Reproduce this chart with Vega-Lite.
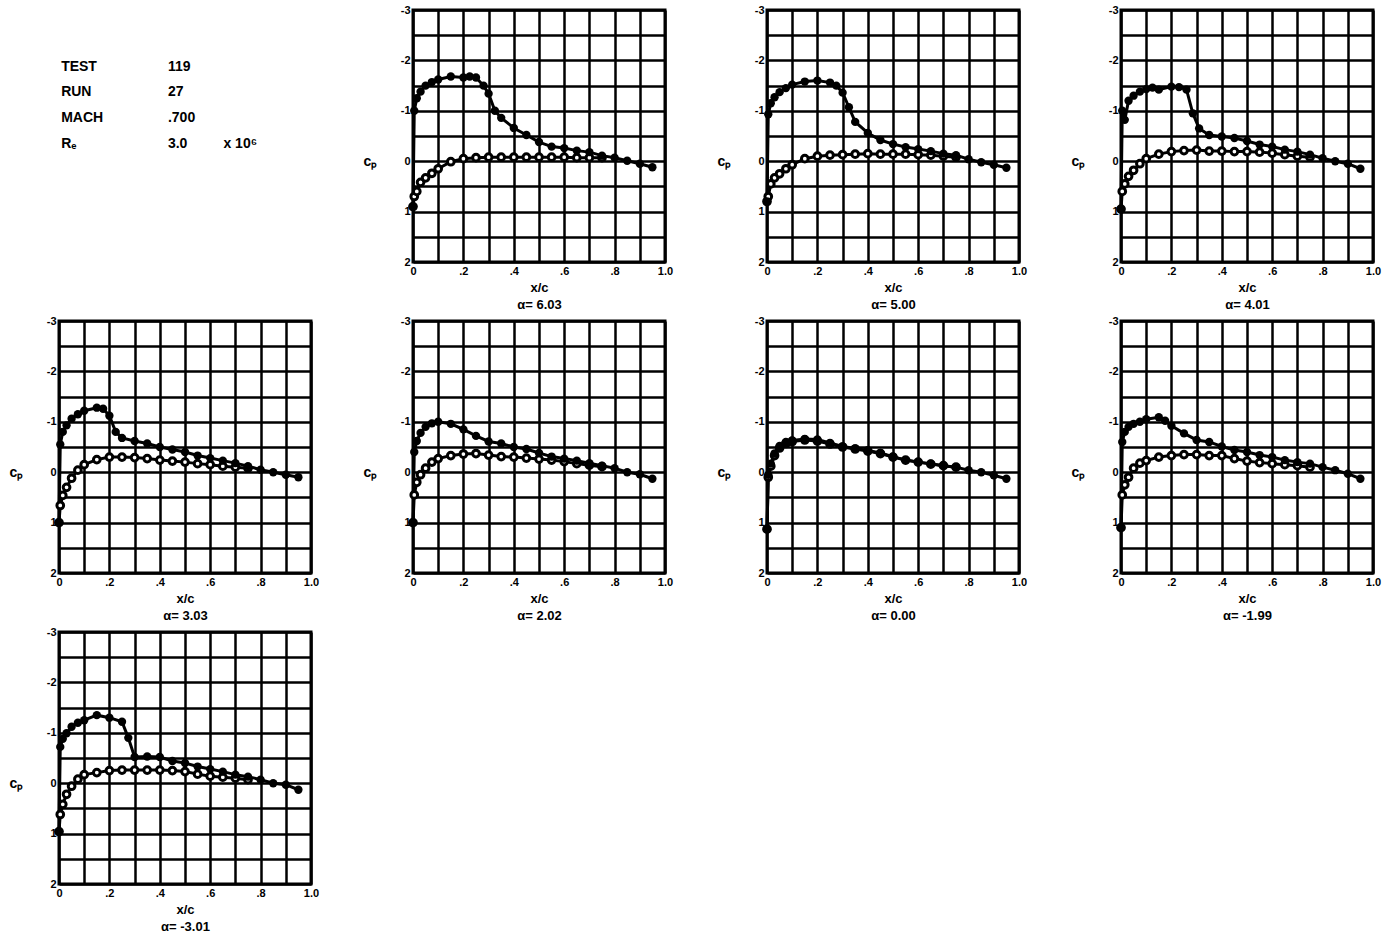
{
 "$schema": "https://vega.github.io/schema/vega-lite/v6.json",
 "background": "white",
 "padding": {"left": 7, "top": 2, "right": 5, "bottom": 5},
 "columns": 4,
 "spacing": {"row": 59, "column": 102},
 "bounds": "flush",
 "datasets": {
  "cp": [
   {"p":1,"s":"U","x":0,"cp":0.9},{"p":1,"s":"U","x":0.005,"cp":-1.0},{"p":1,"s":"U","x":0.015,"cp":-1.25},{"p":1,"s":"U","x":0.03,"cp":-1.38},{"p":1,"s":"U","x":0.05,"cp":-1.5},{"p":1,"s":"U","x":0.075,"cp":-1.57},{"p":1,"s":"U","x":0.1,"cp":-1.62},{"p":1,"s":"U","x":0.15,"cp":-1.68},{"p":1,"s":"U","x":0.2,"cp":-1.66},{"p":1,"s":"U","x":0.225,"cp":-1.68},{"p":1,"s":"U","x":0.25,"cp":-1.66},{"p":1,"s":"U","x":0.28,"cp":-1.5},{"p":1,"s":"U","x":0.3,"cp":-1.34},{"p":1,"s":"U","x":0.325,"cp":-1.0},{"p":1,"s":"U","x":0.35,"cp":-0.86},{"p":1,"s":"U","x":0.4,"cp":-0.66},{"p":1,"s":"U","x":0.45,"cp":-0.52},{"p":1,"s":"U","x":0.5,"cp":-0.38},{"p":1,"s":"U","x":0.55,"cp":-0.29},{"p":1,"s":"U","x":0.6,"cp":-0.26},{"p":1,"s":"U","x":0.65,"cp":-0.21},{"p":1,"s":"U","x":0.7,"cp":-0.18},{"p":1,"s":"U","x":0.75,"cp":-0.11},{"p":1,"s":"U","x":0.8,"cp":-0.07},{"p":1,"s":"U","x":0.85,"cp":-0.01},{"p":1,"s":"U","x":0.9,"cp":0.05},{"p":1,"s":"U","x":0.95,"cp":0.12},
   {"p":1,"s":"L","x":0,"cp":0.9},{"p":1,"s":"L","x":0.005,"cp":0.7},{"p":1,"s":"L","x":0.015,"cp":0.6},{"p":1,"s":"L","x":0.03,"cp":0.42},{"p":1,"s":"L","x":0.05,"cp":0.33},{"p":1,"s":"L","x":0.075,"cp":0.24},{"p":1,"s":"L","x":0.1,"cp":0.15},{"p":1,"s":"L","x":0.15,"cp":0.01},{"p":1,"s":"L","x":0.2,"cp":-0.05},{"p":1,"s":"L","x":0.25,"cp":-0.07},{"p":1,"s":"L","x":0.3,"cp":-0.08},{"p":1,"s":"L","x":0.35,"cp":-0.08},{"p":1,"s":"L","x":0.4,"cp":-0.08},{"p":1,"s":"L","x":0.45,"cp":-0.08},{"p":1,"s":"L","x":0.5,"cp":-0.08},{"p":1,"s":"L","x":0.55,"cp":-0.08},{"p":1,"s":"L","x":0.6,"cp":-0.08},{"p":1,"s":"L","x":0.65,"cp":-0.07},{"p":1,"s":"L","x":0.7,"cp":-0.07},{"p":1,"s":"L","x":0.75,"cp":-0.07},

   {"p":2,"s":"U","x":0,"cp":0.8},{"p":2,"s":"U","x":0.005,"cp":-0.93},{"p":2,"s":"U","x":0.015,"cp":-1.15},{"p":2,"s":"U","x":0.03,"cp":-1.27},{"p":2,"s":"U","x":0.05,"cp":-1.37},{"p":2,"s":"U","x":0.075,"cp":-1.45},{"p":2,"s":"U","x":0.1,"cp":-1.52},{"p":2,"s":"U","x":0.15,"cp":-1.58},{"p":2,"s":"U","x":0.2,"cp":-1.6},{"p":2,"s":"U","x":0.25,"cp":-1.56},{"p":2,"s":"U","x":0.275,"cp":-1.5},{"p":2,"s":"U","x":0.3,"cp":-1.36},{"p":2,"s":"U","x":0.325,"cp":-1.07},{"p":2,"s":"U","x":0.35,"cp":-0.78},{"p":2,"s":"U","x":0.4,"cp":-0.56},{"p":2,"s":"U","x":0.45,"cp":-0.42},{"p":2,"s":"U","x":0.5,"cp":-0.34},{"p":2,"s":"U","x":0.55,"cp":-0.28},{"p":2,"s":"U","x":0.6,"cp":-0.24},{"p":2,"s":"U","x":0.65,"cp":-0.2},{"p":2,"s":"U","x":0.7,"cp":-0.15},{"p":2,"s":"U","x":0.75,"cp":-0.12},{"p":2,"s":"U","x":0.8,"cp":-0.04},{"p":2,"s":"U","x":0.85,"cp":0.02},{"p":2,"s":"U","x":0.9,"cp":0.07},{"p":2,"s":"U","x":0.95,"cp":0.13},
   {"p":2,"s":"L","x":0,"cp":0.8},{"p":2,"s":"L","x":0.005,"cp":0.7},{"p":2,"s":"L","x":0.015,"cp":0.45},{"p":2,"s":"L","x":0.03,"cp":0.33},{"p":2,"s":"L","x":0.05,"cp":0.25},{"p":2,"s":"L","x":0.075,"cp":0.15},{"p":2,"s":"L","x":0.1,"cp":0.07},{"p":2,"s":"L","x":0.15,"cp":-0.05},{"p":2,"s":"L","x":0.2,"cp":-0.1},{"p":2,"s":"L","x":0.25,"cp":-0.12},{"p":2,"s":"L","x":0.3,"cp":-0.13},{"p":2,"s":"L","x":0.35,"cp":-0.14},{"p":2,"s":"L","x":0.4,"cp":-0.15},{"p":2,"s":"L","x":0.45,"cp":-0.14},{"p":2,"s":"L","x":0.5,"cp":-0.14},{"p":2,"s":"L","x":0.55,"cp":-0.14},{"p":2,"s":"L","x":0.6,"cp":-0.13},{"p":2,"s":"L","x":0.65,"cp":-0.12},{"p":2,"s":"L","x":0.7,"cp":-0.1},{"p":2,"s":"L","x":0.75,"cp":-0.08},

   {"p":3,"s":"U","x":0,"cp":0.95},{"p":3,"s":"U","x":0.005,"cp":-1.0},{"p":3,"s":"U","x":0.015,"cp":-0.82},{"p":3,"s":"U","x":0.03,"cp":-1.2},{"p":3,"s":"U","x":0.05,"cp":-1.3},{"p":3,"s":"U","x":0.075,"cp":-1.38},{"p":3,"s":"U","x":0.1,"cp":-1.43},{"p":3,"s":"U","x":0.125,"cp":-1.46},{"p":3,"s":"U","x":0.15,"cp":-1.42},{"p":3,"s":"U","x":0.2,"cp":-1.48},{"p":3,"s":"U","x":0.23,"cp":-1.47},{"p":3,"s":"U","x":0.26,"cp":-1.42},{"p":3,"s":"U","x":0.285,"cp":-0.95},{"p":3,"s":"U","x":0.31,"cp":-0.65},{"p":3,"s":"U","x":0.35,"cp":-0.52},{"p":3,"s":"U","x":0.4,"cp":-0.49},{"p":3,"s":"U","x":0.45,"cp":-0.46},{"p":3,"s":"U","x":0.5,"cp":-0.4},{"p":3,"s":"U","x":0.55,"cp":-0.33},{"p":3,"s":"U","x":0.6,"cp":-0.29},{"p":3,"s":"U","x":0.65,"cp":-0.23},{"p":3,"s":"U","x":0.7,"cp":-0.19},{"p":3,"s":"U","x":0.75,"cp":-0.13},{"p":3,"s":"U","x":0.8,"cp":-0.06},{"p":3,"s":"U","x":0.85,"cp":0.0},{"p":3,"s":"U","x":0.9,"cp":0.05},{"p":3,"s":"U","x":0.95,"cp":0.15},
   {"p":3,"s":"L","x":0,"cp":0.95},{"p":3,"s":"L","x":0.005,"cp":0.6},{"p":3,"s":"L","x":0.015,"cp":0.45},{"p":3,"s":"L","x":0.03,"cp":0.3},{"p":3,"s":"L","x":0.05,"cp":0.18},{"p":3,"s":"L","x":0.075,"cp":0.05},{"p":3,"s":"L","x":0.1,"cp":-0.05},{"p":3,"s":"L","x":0.15,"cp":-0.14},{"p":3,"s":"L","x":0.2,"cp":-0.19},{"p":3,"s":"L","x":0.25,"cp":-0.21},{"p":3,"s":"L","x":0.3,"cp":-0.22},{"p":3,"s":"L","x":0.35,"cp":-0.2},{"p":3,"s":"L","x":0.4,"cp":-0.2},{"p":3,"s":"L","x":0.45,"cp":-0.19},{"p":3,"s":"L","x":0.5,"cp":-0.19},{"p":3,"s":"L","x":0.55,"cp":-0.18},{"p":3,"s":"L","x":0.6,"cp":-0.16},{"p":3,"s":"L","x":0.65,"cp":-0.13},{"p":3,"s":"L","x":0.7,"cp":-0.1},{"p":3,"s":"L","x":0.75,"cp":-0.08},

   {"p":4,"s":"U","x":0,"cp":1.0},{"p":4,"s":"U","x":0.005,"cp":-0.55},{"p":4,"s":"U","x":0.015,"cp":-0.8},{"p":4,"s":"U","x":0.03,"cp":-0.93},{"p":4,"s":"U","x":0.05,"cp":-1.06},{"p":4,"s":"U","x":0.075,"cp":-1.15},{"p":4,"s":"U","x":0.1,"cp":-1.22},{"p":4,"s":"U","x":0.15,"cp":-1.28},{"p":4,"s":"U","x":0.175,"cp":-1.26},{"p":4,"s":"U","x":0.2,"cp":-1.12},{"p":4,"s":"U","x":0.225,"cp":-0.8},{"p":4,"s":"U","x":0.25,"cp":-0.68},{"p":4,"s":"U","x":0.3,"cp":-0.62},{"p":4,"s":"U","x":0.35,"cp":-0.57},{"p":4,"s":"U","x":0.4,"cp":-0.5},{"p":4,"s":"U","x":0.45,"cp":-0.45},{"p":4,"s":"U","x":0.5,"cp":-0.4},{"p":4,"s":"U","x":0.55,"cp":-0.33},{"p":4,"s":"U","x":0.6,"cp":-0.28},{"p":4,"s":"U","x":0.65,"cp":-0.23},{"p":4,"s":"U","x":0.7,"cp":-0.18},{"p":4,"s":"U","x":0.75,"cp":-0.12},{"p":4,"s":"U","x":0.8,"cp":-0.05},{"p":4,"s":"U","x":0.85,"cp":0.0},{"p":4,"s":"U","x":0.9,"cp":0.05},{"p":4,"s":"U","x":0.95,"cp":0.1},
   {"p":4,"s":"L","x":0,"cp":1.0},{"p":4,"s":"L","x":0.005,"cp":0.66},{"p":4,"s":"L","x":0.015,"cp":0.46},{"p":4,"s":"L","x":0.03,"cp":0.3},{"p":4,"s":"L","x":0.05,"cp":0.12},{"p":4,"s":"L","x":0.075,"cp":-0.04},{"p":4,"s":"L","x":0.1,"cp":-0.15},{"p":4,"s":"L","x":0.15,"cp":-0.25},{"p":4,"s":"L","x":0.2,"cp":-0.3},{"p":4,"s":"L","x":0.25,"cp":-0.3},{"p":4,"s":"L","x":0.3,"cp":-0.29},{"p":4,"s":"L","x":0.35,"cp":-0.27},{"p":4,"s":"L","x":0.4,"cp":-0.24},{"p":4,"s":"L","x":0.45,"cp":-0.22},{"p":4,"s":"L","x":0.5,"cp":-0.2},{"p":4,"s":"L","x":0.55,"cp":-0.17},{"p":4,"s":"L","x":0.6,"cp":-0.15},{"p":4,"s":"L","x":0.65,"cp":-0.12},{"p":4,"s":"L","x":0.7,"cp":-0.1},{"p":4,"s":"L","x":0.75,"cp":-0.08},

   {"p":5,"s":"U","x":0,"cp":1.0},{"p":5,"s":"U","x":0.005,"cp":-0.4},{"p":5,"s":"U","x":0.015,"cp":-0.62},{"p":5,"s":"U","x":0.03,"cp":-0.78},{"p":5,"s":"U","x":0.05,"cp":-0.9},{"p":5,"s":"U","x":0.075,"cp":-0.97},{"p":5,"s":"U","x":0.1,"cp":-1.0},{"p":5,"s":"U","x":0.15,"cp":-0.96},{"p":5,"s":"U","x":0.2,"cp":-0.85},{"p":5,"s":"U","x":0.25,"cp":-0.72},{"p":5,"s":"U","x":0.3,"cp":-0.61},{"p":5,"s":"U","x":0.35,"cp":-0.57},{"p":5,"s":"U","x":0.4,"cp":-0.5},{"p":5,"s":"U","x":0.45,"cp":-0.46},{"p":5,"s":"U","x":0.5,"cp":-0.38},{"p":5,"s":"U","x":0.55,"cp":-0.31},{"p":5,"s":"U","x":0.6,"cp":-0.27},{"p":5,"s":"U","x":0.65,"cp":-0.23},{"p":5,"s":"U","x":0.7,"cp":-0.18},{"p":5,"s":"U","x":0.75,"cp":-0.13},{"p":5,"s":"U","x":0.8,"cp":-0.08},{"p":5,"s":"U","x":0.85,"cp":0.0},{"p":5,"s":"U","x":0.9,"cp":0.04},{"p":5,"s":"U","x":0.95,"cp":0.13},
   {"p":5,"s":"L","x":0,"cp":1.0},{"p":5,"s":"L","x":0.005,"cp":0.45},{"p":5,"s":"L","x":0.015,"cp":0.2},{"p":5,"s":"L","x":0.03,"cp":0.05},{"p":5,"s":"L","x":0.05,"cp":-0.08},{"p":5,"s":"L","x":0.075,"cp":-0.2},{"p":5,"s":"L","x":0.1,"cp":-0.27},{"p":5,"s":"L","x":0.15,"cp":-0.33},{"p":5,"s":"L","x":0.2,"cp":-0.36},{"p":5,"s":"L","x":0.25,"cp":-0.37},{"p":5,"s":"L","x":0.3,"cp":-0.34},{"p":5,"s":"L","x":0.35,"cp":-0.31},{"p":5,"s":"L","x":0.4,"cp":-0.3},{"p":5,"s":"L","x":0.45,"cp":-0.28},{"p":5,"s":"L","x":0.5,"cp":-0.26},{"p":5,"s":"L","x":0.55,"cp":-0.24},{"p":5,"s":"L","x":0.6,"cp":-0.21},{"p":5,"s":"L","x":0.65,"cp":-0.17},{"p":5,"s":"L","x":0.7,"cp":-0.14},{"p":5,"s":"L","x":0.75,"cp":-0.11},

   {"p":6,"s":"U","x":0,"cp":1.13},{"p":6,"s":"U","x":0.005,"cp":0.05},{"p":6,"s":"U","x":0.015,"cp":-0.17},{"p":6,"s":"U","x":0.03,"cp":-0.37},{"p":6,"s":"U","x":0.05,"cp":-0.52},{"p":6,"s":"U","x":0.075,"cp":-0.6},{"p":6,"s":"U","x":0.1,"cp":-0.63},{"p":6,"s":"U","x":0.15,"cp":-0.66},{"p":6,"s":"U","x":0.2,"cp":-0.65},{"p":6,"s":"U","x":0.25,"cp":-0.58},{"p":6,"s":"U","x":0.3,"cp":-0.51},{"p":6,"s":"U","x":0.35,"cp":-0.47},{"p":6,"s":"U","x":0.4,"cp":-0.43},{"p":6,"s":"U","x":0.45,"cp":-0.38},{"p":6,"s":"U","x":0.5,"cp":-0.31},{"p":6,"s":"U","x":0.55,"cp":-0.24},{"p":6,"s":"U","x":0.6,"cp":-0.2},{"p":6,"s":"U","x":0.65,"cp":-0.17},{"p":6,"s":"U","x":0.7,"cp":-0.13},{"p":6,"s":"U","x":0.75,"cp":-0.1},{"p":6,"s":"U","x":0.8,"cp":-0.04},{"p":6,"s":"U","x":0.85,"cp":0.0},{"p":6,"s":"U","x":0.9,"cp":0.06},{"p":6,"s":"U","x":0.95,"cp":0.13},
   {"p":6,"s":"L","x":0,"cp":1.13},{"p":6,"s":"L","x":0.005,"cp":0.1},{"p":6,"s":"L","x":0.015,"cp":-0.12},{"p":6,"s":"L","x":0.03,"cp":-0.33},{"p":6,"s":"L","x":0.05,"cp":-0.48},{"p":6,"s":"L","x":0.075,"cp":-0.57},{"p":6,"s":"L","x":0.1,"cp":-0.61},{"p":6,"s":"L","x":0.15,"cp":-0.64},{"p":6,"s":"L","x":0.2,"cp":-0.62},{"p":6,"s":"L","x":0.25,"cp":-0.56},{"p":6,"s":"L","x":0.3,"cp":-0.5},{"p":6,"s":"L","x":0.35,"cp":-0.46},{"p":6,"s":"L","x":0.4,"cp":-0.42},{"p":6,"s":"L","x":0.45,"cp":-0.37},{"p":6,"s":"L","x":0.5,"cp":-0.3},{"p":6,"s":"L","x":0.55,"cp":-0.24},{"p":6,"s":"L","x":0.6,"cp":-0.2},{"p":6,"s":"L","x":0.65,"cp":-0.16},{"p":6,"s":"L","x":0.7,"cp":-0.13},{"p":6,"s":"L","x":0.75,"cp":-0.1},

   {"p":7,"s":"U","x":0,"cp":1.1},{"p":7,"s":"U","x":0.005,"cp":-0.6},{"p":7,"s":"U","x":0.015,"cp":-0.8},{"p":7,"s":"U","x":0.03,"cp":-0.9},{"p":7,"s":"U","x":0.05,"cp":-0.96},{"p":7,"s":"U","x":0.075,"cp":-1.0},{"p":7,"s":"U","x":0.1,"cp":-1.05},{"p":7,"s":"U","x":0.15,"cp":-1.09},{"p":7,"s":"U","x":0.175,"cp":-1.02},{"p":7,"s":"U","x":0.2,"cp":-0.92},{"p":7,"s":"U","x":0.25,"cp":-0.77},{"p":7,"s":"U","x":0.3,"cp":-0.64},{"p":7,"s":"U","x":0.35,"cp":-0.6},{"p":7,"s":"U","x":0.4,"cp":-0.51},{"p":7,"s":"U","x":0.45,"cp":-0.44},{"p":7,"s":"U","x":0.5,"cp":-0.4},{"p":7,"s":"U","x":0.55,"cp":-0.34},{"p":7,"s":"U","x":0.6,"cp":-0.3},{"p":7,"s":"U","x":0.65,"cp":-0.24},{"p":7,"s":"U","x":0.7,"cp":-0.2},{"p":7,"s":"U","x":0.75,"cp":-0.17},{"p":7,"s":"U","x":0.8,"cp":-0.1},{"p":7,"s":"U","x":0.85,"cp":-0.04},{"p":7,"s":"U","x":0.9,"cp":0.03},{"p":7,"s":"U","x":0.95,"cp":0.13},
   {"p":7,"s":"L","x":0,"cp":1.1},{"p":7,"s":"L","x":0.005,"cp":0.45},{"p":7,"s":"L","x":0.015,"cp":0.25},{"p":7,"s":"L","x":0.03,"cp":0.1},{"p":7,"s":"L","x":0.05,"cp":-0.08},{"p":7,"s":"L","x":0.075,"cp":-0.18},{"p":7,"s":"L","x":0.1,"cp":-0.23},{"p":7,"s":"L","x":0.15,"cp":-0.3},{"p":7,"s":"L","x":0.2,"cp":-0.33},{"p":7,"s":"L","x":0.25,"cp":-0.35},{"p":7,"s":"L","x":0.3,"cp":-0.35},{"p":7,"s":"L","x":0.35,"cp":-0.33},{"p":7,"s":"L","x":0.4,"cp":-0.33},{"p":7,"s":"L","x":0.45,"cp":-0.27},{"p":7,"s":"L","x":0.5,"cp":-0.22},{"p":7,"s":"L","x":0.55,"cp":-0.19},{"p":7,"s":"L","x":0.6,"cp":-0.17},{"p":7,"s":"L","x":0.65,"cp":-0.15},{"p":7,"s":"L","x":0.7,"cp":-0.13},{"p":7,"s":"L","x":0.75,"cp":-0.1},

   {"p":8,"s":"U","x":0,"cp":0.96},{"p":8,"s":"U","x":0.005,"cp":-0.72},{"p":8,"s":"U","x":0.015,"cp":-0.88},{"p":8,"s":"U","x":0.03,"cp":-0.99},{"p":8,"s":"U","x":0.05,"cp":-1.12},{"p":8,"s":"U","x":0.075,"cp":-1.2},{"p":8,"s":"U","x":0.1,"cp":-1.25},{"p":8,"s":"U","x":0.15,"cp":-1.35},{"p":8,"s":"U","x":0.2,"cp":-1.3},{"p":8,"s":"U","x":0.25,"cp":-1.22},{"p":8,"s":"U","x":0.275,"cp":-0.9},{"p":8,"s":"U","x":0.3,"cp":-0.52},{"p":8,"s":"U","x":0.35,"cp":-0.53},{"p":8,"s":"U","x":0.4,"cp":-0.52},{"p":8,"s":"U","x":0.45,"cp":-0.44},{"p":8,"s":"U","x":0.5,"cp":-0.4},{"p":8,"s":"U","x":0.55,"cp":-0.33},{"p":8,"s":"U","x":0.6,"cp":-0.28},{"p":8,"s":"U","x":0.65,"cp":-0.23},{"p":8,"s":"U","x":0.7,"cp":-0.17},{"p":8,"s":"U","x":0.75,"cp":-0.13},{"p":8,"s":"U","x":0.8,"cp":-0.07},{"p":8,"s":"U","x":0.85,"cp":0.0},{"p":8,"s":"U","x":0.9,"cp":0.03},{"p":8,"s":"U","x":0.95,"cp":0.13},
   {"p":8,"s":"L","x":0,"cp":0.96},{"p":8,"s":"L","x":0.005,"cp":0.62},{"p":8,"s":"L","x":0.015,"cp":0.42},{"p":8,"s":"L","x":0.03,"cp":0.22},{"p":8,"s":"L","x":0.05,"cp":0.06},{"p":8,"s":"L","x":0.075,"cp":-0.08},{"p":8,"s":"L","x":0.1,"cp":-0.17},{"p":8,"s":"L","x":0.15,"cp":-0.21},{"p":8,"s":"L","x":0.2,"cp":-0.25},{"p":8,"s":"L","x":0.25,"cp":-0.26},{"p":8,"s":"L","x":0.3,"cp":-0.26},{"p":8,"s":"L","x":0.35,"cp":-0.26},{"p":8,"s":"L","x":0.4,"cp":-0.26},{"p":8,"s":"L","x":0.45,"cp":-0.25},{"p":8,"s":"L","x":0.5,"cp":-0.23},{"p":8,"s":"L","x":0.55,"cp":-0.18},{"p":8,"s":"L","x":0.6,"cp":-0.14},{"p":8,"s":"L","x":0.65,"cp":-0.12},{"p":8,"s":"L","x":0.7,"cp":-0.1},{"p":8,"s":"L","x":0.75,"cp":-0.07}
  ],
  "info": [
   {"col":0,"line":1,"t":"TEST"},{"col":1,"line":1,"t":"119"},
   {"col":0,"line":2,"t":"RUN"},{"col":1,"line":2,"t":"27"},
   {"col":0,"line":3,"t":"MACH"},{"col":1,"line":3,"t":".700"},
   {"col":0,"line":4,"t":"Rₑ"},{"col":1,"line":4,"t":"3.0"},{"col":1.52,"line":4,"t":"x 10⁶"}
  ]
 },
 "data": {"name": "cp"},
 "concat": [
  {"width":252,"height":252,"view":{"stroke":null},"data":{"name":"info"},
   "mark":{"type":"text","align":"left","baseline":"middle","fontSize":14,"fontWeight":"bold","font":"Liberation Sans","color":"black"},
   "encoding":{"x":{"field":"col","type":"quantitative","scale":{"domain":[-0.02,2.34],"nice":false,"zero":false},"axis":null},
     "y":{"field":"line","type":"quantitative","scale":{"domain":[-1.2,8.6],"nice":false,"zero":false,"reverse":true},"axis":null},
     "text":{"field":"t"}}},
  {"width":252,"height":252,"transform":[{"filter":"datum.p==1"}],
   "encoding":{"x":{"field":"x","type":"quantitative","scale":{"domain":[0,1],"nice":false},"axis":{"title":["x/c","α= 6.03"],"values":[0,0.1,0.2,0.3,0.4,0.5,0.6,0.7,0.8,0.9,1]}},
     "y":{"field":"cp","type":"quantitative","scale":{"domain":[-3,2],"reverse":true,"nice":false,"zero":false},"axis":{"title":"cₚ","values":[-3,-2.5,-2,-1.5,-1,-0.5,0,0.5,1,1.5,2]}}},
   "layer":[{"mark":{"type":"line","color":"black","strokeWidth":3},"encoding":{"detail":{"field":"s"}}},
     {"transform":[{"filter":"datum.s=='L'"}],"mark":{"type":"point","shape":"circle","filled":true,"fill":"white","stroke":"black","strokeWidth":3,"size":45,"opacity":1}},
     {"transform":[{"filter":"datum.s=='U'"}],"mark":{"type":"circle","color":"black","size":70,"opacity":1}}]},
  {"width":252,"height":252,"transform":[{"filter":"datum.p==2"}],
   "encoding":{"x":{"field":"x","type":"quantitative","scale":{"domain":[0,1],"nice":false},"axis":{"title":["x/c","α= 5.00"],"values":[0,0.1,0.2,0.3,0.4,0.5,0.6,0.7,0.8,0.9,1]}},
     "y":{"field":"cp","type":"quantitative","scale":{"domain":[-3,2],"reverse":true,"nice":false,"zero":false},"axis":{"title":"cₚ","values":[-3,-2.5,-2,-1.5,-1,-0.5,0,0.5,1,1.5,2]}}},
   "layer":[{"mark":{"type":"line","color":"black","strokeWidth":3},"encoding":{"detail":{"field":"s"}}},
     {"transform":[{"filter":"datum.s=='L'"}],"mark":{"type":"point","shape":"circle","filled":true,"fill":"white","stroke":"black","strokeWidth":3,"size":45,"opacity":1}},
     {"transform":[{"filter":"datum.s=='U'"}],"mark":{"type":"circle","color":"black","size":70,"opacity":1}}]},
  {"width":252,"height":252,"transform":[{"filter":"datum.p==3"}],
   "encoding":{"x":{"field":"x","type":"quantitative","scale":{"domain":[0,1],"nice":false},"axis":{"title":["x/c","α= 4.01"],"values":[0,0.1,0.2,0.3,0.4,0.5,0.6,0.7,0.8,0.9,1]}},
     "y":{"field":"cp","type":"quantitative","scale":{"domain":[-3,2],"reverse":true,"nice":false,"zero":false},"axis":{"title":"cₚ","values":[-3,-2.5,-2,-1.5,-1,-0.5,0,0.5,1,1.5,2]}}},
   "layer":[{"mark":{"type":"line","color":"black","strokeWidth":3},"encoding":{"detail":{"field":"s"}}},
     {"transform":[{"filter":"datum.s=='L'"}],"mark":{"type":"point","shape":"circle","filled":true,"fill":"white","stroke":"black","strokeWidth":3,"size":45,"opacity":1}},
     {"transform":[{"filter":"datum.s=='U'"}],"mark":{"type":"circle","color":"black","size":70,"opacity":1}}]},
  {"width":252,"height":252,"transform":[{"filter":"datum.p==4"}],
   "encoding":{"x":{"field":"x","type":"quantitative","scale":{"domain":[0,1],"nice":false},"axis":{"title":["x/c","α= 3.03"],"values":[0,0.1,0.2,0.3,0.4,0.5,0.6,0.7,0.8,0.9,1]}},
     "y":{"field":"cp","type":"quantitative","scale":{"domain":[-3,2],"reverse":true,"nice":false,"zero":false},"axis":{"title":"cₚ","values":[-3,-2.5,-2,-1.5,-1,-0.5,0,0.5,1,1.5,2]}}},
   "layer":[{"mark":{"type":"line","color":"black","strokeWidth":3},"encoding":{"detail":{"field":"s"}}},
     {"transform":[{"filter":"datum.s=='L'"}],"mark":{"type":"point","shape":"circle","filled":true,"fill":"white","stroke":"black","strokeWidth":3,"size":45,"opacity":1}},
     {"transform":[{"filter":"datum.s=='U'"}],"mark":{"type":"circle","color":"black","size":70,"opacity":1}}]},
  {"width":252,"height":252,"transform":[{"filter":"datum.p==5"}],
   "encoding":{"x":{"field":"x","type":"quantitative","scale":{"domain":[0,1],"nice":false},"axis":{"title":["x/c","α= 2.02"],"values":[0,0.1,0.2,0.3,0.4,0.5,0.6,0.7,0.8,0.9,1]}},
     "y":{"field":"cp","type":"quantitative","scale":{"domain":[-3,2],"reverse":true,"nice":false,"zero":false},"axis":{"title":"cₚ","values":[-3,-2.5,-2,-1.5,-1,-0.5,0,0.5,1,1.5,2]}}},
   "layer":[{"mark":{"type":"line","color":"black","strokeWidth":3},"encoding":{"detail":{"field":"s"}}},
     {"transform":[{"filter":"datum.s=='L'"}],"mark":{"type":"point","shape":"circle","filled":true,"fill":"white","stroke":"black","strokeWidth":3,"size":45,"opacity":1}},
     {"transform":[{"filter":"datum.s=='U'"}],"mark":{"type":"circle","color":"black","size":70,"opacity":1}}]},
  {"width":252,"height":252,"transform":[{"filter":"datum.p==6"}],
   "encoding":{"x":{"field":"x","type":"quantitative","scale":{"domain":[0,1],"nice":false},"axis":{"title":["x/c","α= 0.00"],"values":[0,0.1,0.2,0.3,0.4,0.5,0.6,0.7,0.8,0.9,1]}},
     "y":{"field":"cp","type":"quantitative","scale":{"domain":[-3,2],"reverse":true,"nice":false,"zero":false},"axis":{"title":"cₚ","values":[-3,-2.5,-2,-1.5,-1,-0.5,0,0.5,1,1.5,2]}}},
   "layer":[{"mark":{"type":"line","color":"black","strokeWidth":3},"encoding":{"detail":{"field":"s"}}},
     {"transform":[{"filter":"datum.s=='L'"}],"mark":{"type":"point","shape":"circle","filled":true,"fill":"white","stroke":"black","strokeWidth":3,"size":45,"opacity":1}},
     {"transform":[{"filter":"datum.s=='U'"}],"mark":{"type":"circle","color":"black","size":70,"opacity":1}}]},
  {"width":252,"height":252,"transform":[{"filter":"datum.p==7"}],
   "encoding":{"x":{"field":"x","type":"quantitative","scale":{"domain":[0,1],"nice":false},"axis":{"title":["x/c","α= -1.99"],"values":[0,0.1,0.2,0.3,0.4,0.5,0.6,0.7,0.8,0.9,1]}},
     "y":{"field":"cp","type":"quantitative","scale":{"domain":[-3,2],"reverse":true,"nice":false,"zero":false},"axis":{"title":"cₚ","values":[-3,-2.5,-2,-1.5,-1,-0.5,0,0.5,1,1.5,2]}}},
   "layer":[{"mark":{"type":"line","color":"black","strokeWidth":3},"encoding":{"detail":{"field":"s"}}},
     {"transform":[{"filter":"datum.s=='L'"}],"mark":{"type":"point","shape":"circle","filled":true,"fill":"white","stroke":"black","strokeWidth":3,"size":45,"opacity":1}},
     {"transform":[{"filter":"datum.s=='U'"}],"mark":{"type":"circle","color":"black","size":70,"opacity":1}}]},
  {"width":252,"height":252,"transform":[{"filter":"datum.p==8"}],
   "encoding":{"x":{"field":"x","type":"quantitative","scale":{"domain":[0,1],"nice":false},"axis":{"title":["x/c","α= -3.01"],"values":[0,0.1,0.2,0.3,0.4,0.5,0.6,0.7,0.8,0.9,1]}},
     "y":{"field":"cp","type":"quantitative","scale":{"domain":[-3,2],"reverse":true,"nice":false,"zero":false},"axis":{"title":"cₚ","values":[-3,-2.5,-2,-1.5,-1,-0.5,0,0.5,1,1.5,2]}}},
   "layer":[{"mark":{"type":"line","color":"black","strokeWidth":3},"encoding":{"detail":{"field":"s"}}},
     {"transform":[{"filter":"datum.s=='L'"}],"mark":{"type":"point","shape":"circle","filled":true,"fill":"white","stroke":"black","strokeWidth":3,"size":45,"opacity":1}},
     {"transform":[{"filter":"datum.s=='U'"}],"mark":{"type":"circle","color":"black","size":70,"opacity":1}}]}
 ],
 "config": {
  "view": {"stroke": "black", "strokeWidth": 3},
  "axis": {"grid": true, "gridColor": "black", "gridWidth": 2.5, "gridOpacity": 1, "domain": false, "ticks": false,
    "labelFont": "Liberation Sans", "labelFontWeight": "bold", "labelFontSize": 11, "labelColor": "black", "labelPadding": 3,
    "labelOverlap": false, "labelBound": false, "labelFlush": false,
    "titleFont": "Liberation Sans", "titleFontWeight": "bold", "titleColor": "black", "titleFontSize": 13},
  "axisX": {"labelExpr": "round(datum.value*10)%2==0 ? (datum.value==0 ? '0' : (datum.value>0.99 ? '1.0' : '.'+round(datum.value*10))) : ''",
    "titlePadding": 5, "titleLineHeight": 17},
  "axisY": {"labelExpr": "datum.value%1==0 ? ''+datum.value : ''",
    "titleAngle": 0, "titleX": -43, "titleY": 151, "titleAlign": "center", "titleBaseline": "middle", "titleFontSize": 14}
 }
}
